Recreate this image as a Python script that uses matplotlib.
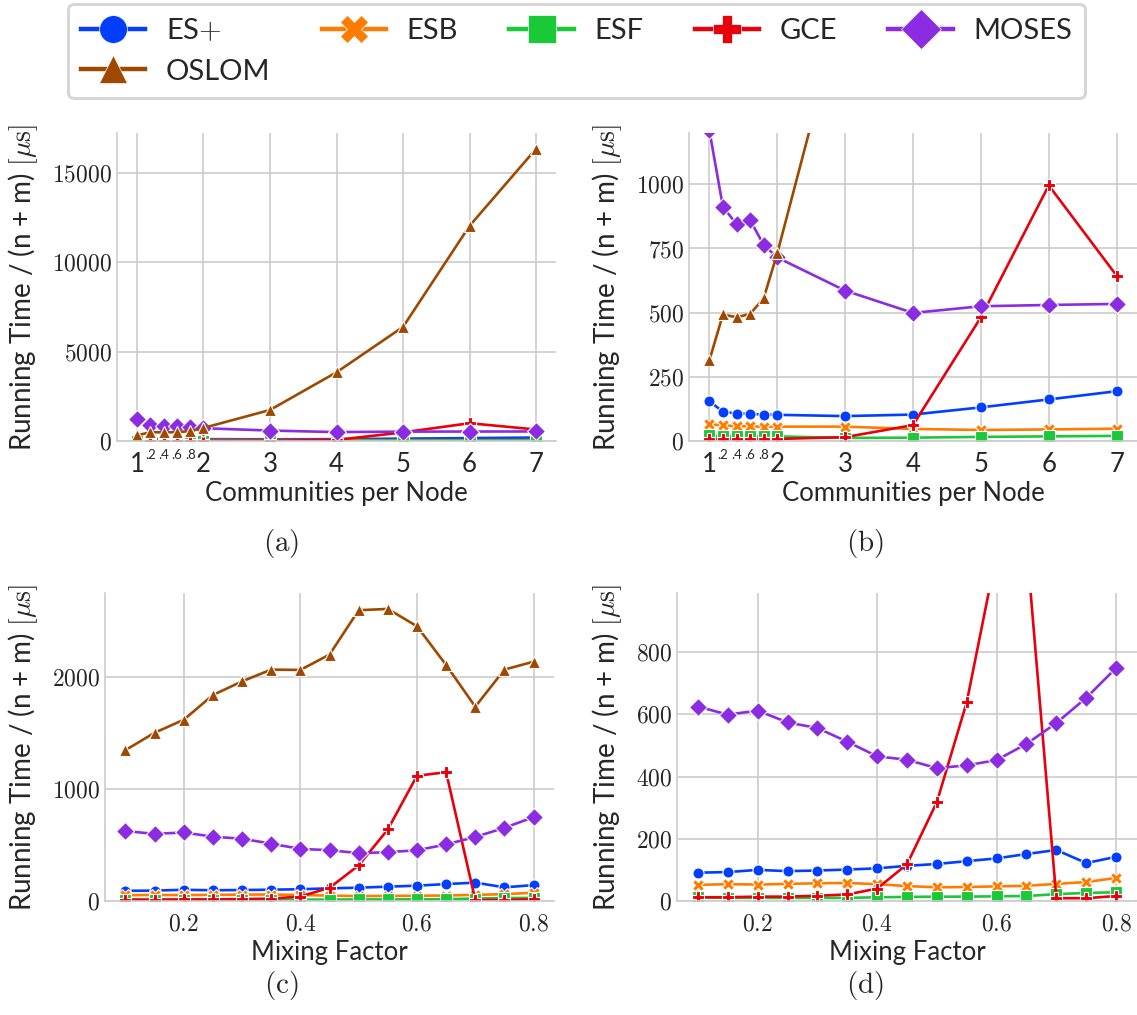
import matplotlib
matplotlib.use("Agg")
import matplotlib.pyplot as plt
from matplotlib.lines import Line2D

plt.rcParams["font.family"] = ["Lato", "DejaVu Sans"]
plt.rcParams["mathtext.fontset"] = "cm"

# ---- data -------------------------------------------------------------
algorithms = ["ES+", "ESB", "ESF", "GCE", "MOSES", "OSLOM"]
legend_labels = [r"ES$+$", "ESB", "ESF", "GCE", "MOSES", "OSLOM"]

# running time per (n + m) vs. communities per node
communities = [1, 1.2, 1.4, 1.6, 1.8, 2, 3, 4, 5, 6, 7]
cpn_esplus = [155, 114, 107, 106, 103, 102, 97, 103, 131, 162, 194]
cpn_esb = [65, 61, 58, 57, 56, 56, 56, 47, 43, 45, 48]
cpn_esf = [22, 18, 18, 18, 18, 18, 12, 13, 16, 18, 20]
cpn_gce = [8, 8, 8, 8, 8, 8, 15, 62, 482, 996, 644]
cpn_moses = [1210, 912, 845, 861, 764, 715, 586, 499, 525, 530, 534]
cpn_oslom = [314, 493, 482, 495, 556, 731, 1737, 3848, 6388, 12048, 16363]

# running time per (n + m) vs. mixing factor
mixing = [0.1, 0.15, 0.2, 0.25, 0.3, 0.35, 0.4, 0.45, 0.5, 0.55, 0.6, 0.65,
          0.7, 0.75, 0.8]
mix_esplus = [91, 93, 100, 96, 98, 101, 105, 113, 119, 128, 137, 151, 164,
              122, 142]
mix_esb = [52, 54, 53, 55, 57, 58, 54, 48, 44, 45, 47, 49, 55, 61, 74]
mix_esf = [12, 10, 10, 10, 10, 10, 12, 13, 14, 14, 15, 16, 22, 26, 28]
mix_gce = [12, 12, 14, 14, 17, 21, 40, 118, 318, 639, 1118, 1150, 9, 9, 16]
mix_moses = [625, 599, 612, 574, 556, 512, 465, 454, 427, 436, 453, 505, 572,
             653, 749]
mix_oslom = [1347, 1502, 1618, 1839, 1961, 2066, 2063, 2200, 2596, 2608, 2453,
             2107, 1735, 2066, 2137]

cpn_series = [cpn_esplus, cpn_esb, cpn_esf, cpn_gce, cpn_moses, cpn_oslom]
mix_series = [mix_esplus, mix_esb, mix_esf, mix_gce, mix_moses, mix_oslom]

cpn_major = [1, 2, 3, 4, 5, 6, 7]
cpn_minor = [1.2, 1.4, 1.6, 1.8]
cpn_minor_labels = [".2", ".4", ".6", ".8"]
mix_ticks = [0.2, 0.4, 0.6, 0.8]

# ---- style --------------------------------------------------------------
colors = ["#023eff", "#ff7c00", "#1ac938", "#e8000b", "#8b2be2", "#9f4800"]
markers = ["o", "X", "s", "P", "D", "^"]
grid_col = "#cccccc"
text_col = "#262626"

W, H = 1137, 1015
fig = plt.figure(figsize=(W / 100, H / 100), dpi=100)


def px_axes(left, right, top, bottom):
    return fig.add_axes([left / W, 1 - bottom / H, (right - left) / W,
                         (bottom - top) / H])


panels = {
    "a": (px_axes(117, 556, 133, 441), 117, 556),
    "b": (px_axes(689, 1137, 133, 441), 689, 1137),
    "c": (px_axes(105, 554, 593, 901), 105, 554),
    "d": (px_axes(677, 1137, 593, 901), 677, 1137),
}
ax_a, ax_b, ax_c, ax_d = (panels[k][0] for k in "abcd")

YTICK_FS = 17
XLABEL_FS = 18.5
YLABEL_FS = 20
ylabel = r"Running Time / (n + m) $[\mathrm{\mu s}]$"
# right edge (figure px) of each y-axis label column
ylabel_right = {"a": 40, "c": 40, "b": 624, "d": 624}


def style_axes(key):
    ax, left, right = panels[key]
    ax.set_facecolor("white")
    for side in ["top", "right"]:
        ax.spines[side].set_visible(False)
    for side in ["left", "bottom"]:
        ax.spines[side].set_color(grid_col)
        ax.spines[side].set_linewidth(1.2)
    ax.grid(True, which="major", color=grid_col, linewidth=1.2)
    ax.set_axisbelow(True)
    ax.tick_params(which="both", length=0)
    ax.set_ylabel(ylabel, fontsize=YLABEL_FS, color=text_col)
    ax.yaxis.set_label_coords((ylabel_right[key] - left) / (right - left), 0.5)
    return ax


def draw(ax, x, series):
    for vals, c, m in zip(series, colors, markers):
        ms = 9 if m == "D" else 8
        ax.plot(x, vals, color=c, marker=m, markersize=ms, linewidth=1.9,
                markeredgecolor="white", markeredgewidth=0.8)


def math_labels(vals, fmt):
    return [r"$" + fmt.format(v) + r"$" for v in vals]


# (a) and (b): communities per node
for key, ylim, yticks in [("a", 17250, [0, 5000, 10000, 15000]),
                          ("b", 1200, [0, 250, 500, 750, 1000])]:
    ax = style_axes(key)
    draw(ax, communities, cpn_series)
    ax.set_xlim(0.7, 7.3)
    ax.set_ylim(0, ylim)
    ax.set_yticks(yticks)
    ax.set_yticklabels(math_labels(yticks, "{:d}"), fontsize=YTICK_FS,
                       color=text_col)
    ax.set_xticks(cpn_major)
    ax.set_xticklabels([str(v) for v in cpn_major], fontsize=18.5,
                       color=text_col)
    ax.set_xticks(cpn_minor, minor=True)
    ax.set_xticklabels(cpn_minor_labels, minor=True, fontsize=9.5,
                       color=text_col)
    ax.tick_params(axis="x", which="major", pad=8)
    ax.tick_params(axis="x", which="minor", pad=6)
    ax.set_xlabel("Communities per Node", fontsize=XLABEL_FS, color=text_col,
                  labelpad=3)

# (c) and (d): mixing factor
for key, ylim, yticks in [("c", 2750, [0, 1000, 2000]),
                          ("d", 990, [0, 200, 400, 600, 800])]:
    ax = style_axes(key)
    draw(ax, mixing, mix_series)
    ax.set_xlim(0.065, 0.835)
    ax.set_ylim(0, ylim)
    ax.set_yticks(yticks)
    ax.set_yticklabels(math_labels(yticks, "{:d}"), fontsize=YTICK_FS,
                       color=text_col)
    ax.set_xticks(mix_ticks)
    ax.set_xticklabels(math_labels(mix_ticks, "{:.1f}"), fontsize=YTICK_FS,
                       color=text_col)
    ax.tick_params(axis="x", which="major", pad=9)
    ax.set_xlabel("Mixing Factor", fontsize=XLABEL_FS, color=text_col,
                  labelpad=4)

# sub-figure captions
for label, x, y in [("(a)", 281, 543), ("(b)", 865, 543),
                    ("(c)", 281, 985), ("(d)", 865, 985)]:
    fig.text(x / W, 1 - y / H, r"$\mathrm{" + label + "}$", fontsize=21,
             ha="center", va="center", color=text_col)

# shared legend, filled row by row (first column holds ES+ and OSLOM)
order = [0, 5, 1, 2, 3, 4]
handles = [Line2D([], [], color=colors[i], marker=markers[i], markersize=20,
                  linewidth=3.2, markeredgecolor="white", markeredgewidth=0.5)
           for i in order]
labels = [legend_labels[i] for i in order]
leg = fig.legend(handles, labels, loc="upper left", ncol=5, mode="expand",
                 bbox_to_anchor=(68 / W, 1 - 95 / H, (1085 - 68) / W, 91 / H),
                 borderaxespad=0, fontsize=21, frameon=True, fancybox=True,
                 handlelength=2.2, borderpad=0.45, labelspacing=0.5,
                 handletextpad=0.7)
leg.get_frame().set_edgecolor(grid_col)
leg.get_frame().set_linewidth(2.2)
for t in leg.get_texts():
    t.set_color(text_col)

fig.savefig("out.png", dpi=100)
